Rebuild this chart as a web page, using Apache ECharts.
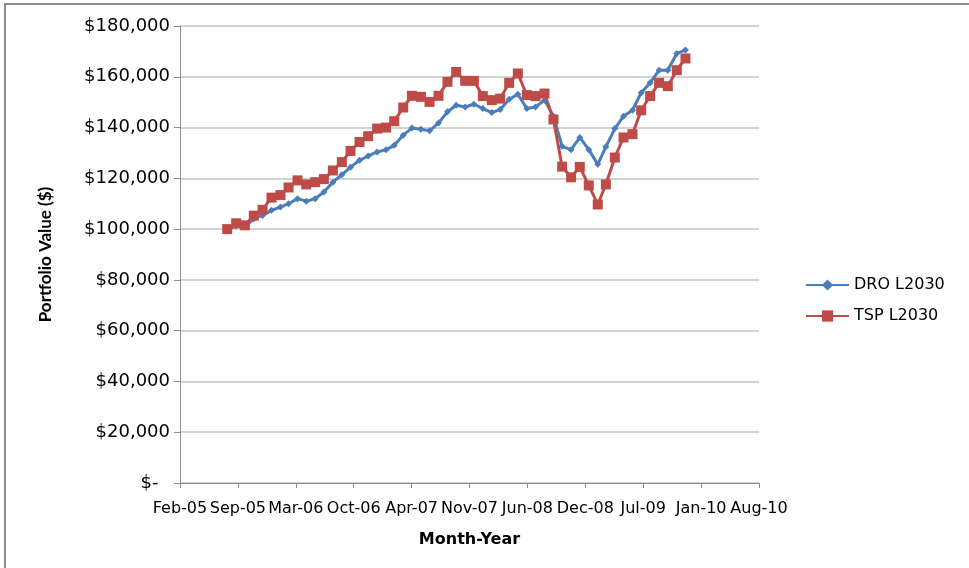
<!DOCTYPE html>
<html>
<head>
<meta charset="utf-8">
<script src="https://cdn.jsdelivr.net/npm/echarts@6/dist/echarts.min.js"></script>
<style>
  html, body { margin: 0; padding: 0; background: #fff; }
  #chart { width: 969px; height: 568px; }
</style>
</head>
<body>
<div id="chart"></div>
<script>
// x-axis tick labels (Excel date axis, one tick every 200 days from 18 Feb 2005)
const tickLabels = ['Feb-05', 'Sep-05', 'Mar-06', 'Oct-06', 'Apr-07', 'Nov-07',
  'Jun-08', 'Dec-08', 'Jul-09', 'Jan-10', 'Aug-10']

// monthly portfolio values, Jul-2005 .. Nov-2009
const droValues = [
  100000, 101200, 100900, 104100, 105400, 107400, 108700, 110000, 112000, 111000,
  112000, 114600, 118500, 121400, 124400, 127100, 128800, 130400, 131300, 133000,
  137000, 139800, 139300, 138700, 141800, 146200, 148800, 148100, 149200, 147500,
  145900, 147100, 151100, 153100, 147500, 148100, 150800, 144500, 132600, 131300,
  136100, 131300, 125500, 132400, 139600, 144500, 146800, 153700, 157600, 162600,
  162600, 169200, 170500
]
const tspValues = [
  100000, 102300, 101500, 105300, 107600, 112400, 113400, 116400, 119200, 117600,
  118500, 119700, 123100, 126400, 130800, 134300, 136600, 139600, 140000, 142500,
  147900, 152500, 152100, 150100, 152500, 158000, 161900, 158400, 158400, 152400,
  150800, 151400, 157600, 161300, 152800, 152400, 153400, 143200, 124600, 120400,
  124500, 117200, 109700, 117600, 128200, 136100, 137400, 146800, 152400, 157600,
  156300, 162600, 167200
]

// month-end dates as day offsets from the axis origin
const axisOrigin = Date.UTC(2005, 1, 18)
const monthDays = droValues.map((_, i) => (Date.UTC(2005, 7 + i, 0) - axisOrigin) / 86400000)

const toPoints = vals => vals.map((v, i) => [monthDays[i], v])

const chart = echarts.init(document.getElementById('chart'))

const font = 'DejaVu Sans'

const option = {
  animation: false,
  grid: { left: 180, right: 210, top: 26, bottom: 85, containLabel: false },
  graphic: [{
    type: 'rect',
    shape: { x: 5, y: 4, width: 1000, height: 700 },
    style: { fill: 'none', stroke: '#8c8c8c', lineWidth: 2 }
  }],
  legend: {
    orient: 'vertical',
    left: 800,
    top: 272,
    itemWidth: 43,
    itemHeight: 14,
    itemGap: 15,
    textStyle: { fontFamily: font, fontSize: 16, color: '#000' },
    data: ['DRO L2030', 'TSP L2030']
  },
  xAxis: {
    type: 'value',
    min: 0,
    max: 2000,
    interval: 200,
    name: 'Month-Year',
    nameLocation: 'middle',
    nameGap: 49,
    nameTextStyle: { fontFamily: font, fontSize: 16, fontWeight: 'bold', color: '#000' },
    axisLine: { lineStyle: { color: '#8c8c8c', width: 1 } },
    axisTick: { show: true, length: 5, lineStyle: { color: '#8c8c8c' } },
    axisLabel: {
      margin: 18,
      fontFamily: font,
      fontSize: 16,
      color: '#000',
      formatter: v => tickLabels[Math.round(v / 200)]
    },
    splitLine: { show: false }
  },
  yAxis: {
    type: 'value',
    min: 0,
    max: 180000,
    interval: 20000,
    name: 'Portfolio Value ($)',
    nameLocation: 'middle',
    nameGap: 126,
    nameTextStyle: { fontFamily: 'Lato', fontSize: 17, fontWeight: 'bold', color: '#000' },
    axisLine: { show: true, lineStyle: { color: '#8c8c8c', width: 1 } },
    axisTick: { show: true, length: 6, lineStyle: { color: '#8c8c8c' } },
    axisLabel: {
      margin: 10,
      fontFamily: font,
      fontSize: 18,
      color: '#000',
      // accounting format: zero shows as a dash with some padding after it
      formatter: v => v === 0 ? '$-\u2007' : '$' + v.toLocaleString('en-US')
    },
    splitLine: { lineStyle: { color: '#c4c4c4', width: 1.5 } }
  },
  series: [
    {
      name: 'DRO L2030',
      type: 'line',
      data: toPoints(droValues),
      symbol: 'diamond',
      symbolSize: 7,
      itemStyle: { color: '#4a7ebb' },
      lineStyle: { color: '#4a7ebb', width: 3 }
    },
    {
      name: 'TSP L2030',
      type: 'line',
      data: toPoints(tspValues),
      symbol: 'rect',
      symbolSize: 10,
      itemStyle: { color: '#be4b48' },
      lineStyle: { color: '#be4b48', width: 3 }
    }
  ]
}

chart.setOption(option)
</script>
</body>
</html>
